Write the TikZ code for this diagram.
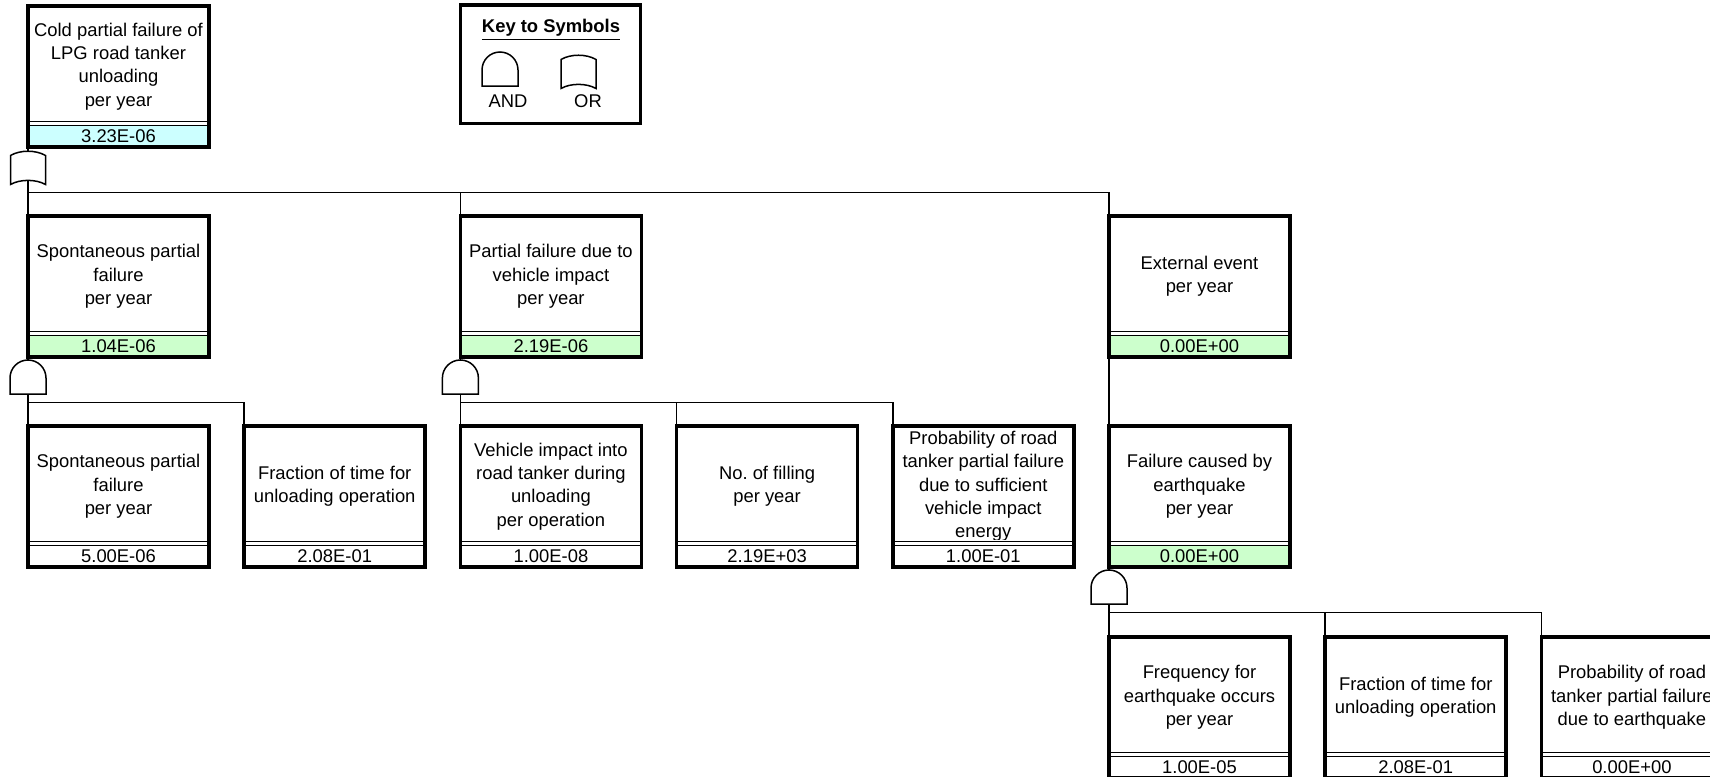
\documentclass[tikz,border=0pt]{standalone}
\usepackage{fontspec}
\setmainfont{Liberation Sans}
\frenchspacing
\definecolor{topband}{HTML}{CCFFFF}
\definecolor{midband}{HTML}{CCFFCC}
\tikzset{
  ftfont/.style={font=\fontsize{9.2pt}{11.65pt}\selectfont},
  evframe/.style={draw, line width=1.75pt, minimum width=90.5pt, minimum height=70.5pt, inner sep=0pt, outer sep=0pt},
  evtext/.style={ftfont, align=center, inner sep=0pt},
  evval/.style={ftfont, inner sep=0pt},
  conn/.style={line width=0.8pt},
  gate/.style={draw, fill=white, line width=0.75pt},
  pics/ftevent/.style n args={3}{code={
    \node[evtext] (-text) at (90.5,60.5) {#1};
    \fill[white] (0,114) rectangle (181,119);
    \fill[#3] (0,119) rectangle (181,141);
    \draw[line width=0.5pt] (0,115) -- (181,115) (0,119) -- (181,119);
    \node[evval] (-val) at (90.5,130.5) {#2};
    \node[evframe] (-box) at (90.5,70.5) {};
  }},
  pics/andgate/.style={code={
    \draw[gate] (-18,37) -- (-18,21) arc[start angle=180, end angle=360, radius=18] -- (18,37) -- cycle;
  }},
  pics/orgate/.style={code={
    \draw[gate] (-17.5,37.5) -- (-17.5,8.5) .. controls (-8,2.8) and (8,2.8) .. (17.5,8.5) -- (17.5,37.5) .. controls (8,32) and (-8,32) .. cycle;
  }}
}
\begin{document}
\begin{tikzpicture}[x=0.5pt, y=-0.5pt]
\useasboundingbox (0,0) rectangle (1710,777);
\clip (0,0) rectangle (1710,777);
\pic (top) at (28,6) {ftevent={Cold partial failure of\\LPG road tanker\\unloading\\per year}{3.23E-06}{topband}};
\pic (spont) at (28,216) {ftevent={Spontaneous partial\\failure\\per year}{1.04E-06}{midband}};
\pic (vehimp) at (460.4,216) {ftevent={Partial failure due to\\vehicle impact\\per year}{2.19E-06}{midband}};
\pic (ext) at (1109,216) {ftevent={External event\\per year}{0.00E+00}{midband}};
\pic (spontb) at (28,426) {ftevent={Spontaneous partial\\failure\\per year}{5.00E-06}{white}};
\pic (fract) at (244.2,426) {ftevent={Fraction of time for\\unloading operation}{2.08E-01}{white}};
\pic (vehinto) at (460.4,426) {ftevent={Vehicle impact into\\road tanker during\\unloading\\per operation}{1.00E-08}{white}};
\pic (nfill) at (676.6,426) {ftevent={No. of filling\\per year}{2.19E+03}{white}};
\pic (probveh) at (892.8,426) {ftevent={Probability of road\\tanker partial failure\\due to sufficient\\vehicle impact\\energy}{1.00E-01}{white}};
\pic (quake) at (1109,426) {ftevent={Failure caused by\\earthquake\\per year}{0.00E+00}{midband}};
\pic (eqfreq) at (1109,637) {ftevent={Frequency for\\earthquake occurs\\per year}{1.00E-05}{white}};
\pic (eqfrac) at (1325.2,637) {ftevent={Fraction of time for\\unloading operation}{2.08E-01}{white}};
\pic (eqprob) at (1541.4,637) {ftevent={Probability of road\\tanker partial failure\\due to earthquake}{0.00E+00}{white}};
\coordinate (bus1) at ([yshift=11.75pt]spont-box.north west);
\coordinate (bus2) at ([yshift=11.75pt]spontb-box.north west);
\coordinate (bus3) at ([yshift=11.75pt]vehinto-box.north west);
\coordinate (bus4) at ([yshift=12.25pt]eqfreq-box.north west);
\draw[conn] (top-box.south west) -- (spont-box.north west);
\draw[conn] (bus1) -| (vehimp-box.north west);
\draw[conn] (bus1) -| (ext-box.north west);
\draw[conn] (spont-box.south west) -- (spontb-box.north west);
\draw[conn] (bus2) -| (fract-box.north west);
\draw[conn] (vehimp-box.south west) -- (vehinto-box.north west);
\draw[conn] (bus3) -| (nfill-box.north west);
\draw[conn] (bus3) -| (probveh-box.north west);
\draw[conn] (ext-box.south west) -- (quake-box.north west);
\draw[conn] (quake-box.south west) -- (eqfreq-box.north west);
\draw[conn] (bus4) -| (eqfrac-box.north west);
\draw[conn] (bus4) -| (eqprob-box.north west);
\pic at (top-box.south west) {orgate};
\pic at (spont-box.south west) {andgate};
\pic at (vehimp-box.south west) {andgate};
\pic at (quake-box.south west) {andgate};
\node[draw, line width=1.75pt, minimum width=90pt, minimum height=59.25pt, outer sep=0pt] (key) at (550.5,64.25) {};
\node[ftfont] (keytitle) at (551,30) {\underline{\textbf{Key to Symbols}}};
\pic at (500,49) {andgate};
\pic at (578.5,51) {orgate};
\node[ftfont] (keyand) at (508,101) {AND};
\node[ftfont] (keyor) at (588,101) {OR};
\end{tikzpicture}
\end{document}
